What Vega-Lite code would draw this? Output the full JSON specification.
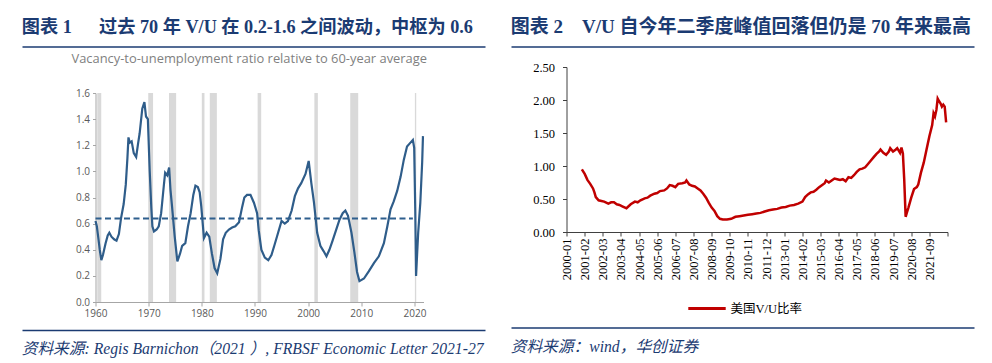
{
  "$schema": "https://vega.github.io/schema/vega-lite/v6.json",
  "background": "white",
  "padding": {"left": 21.5, "top": 17.5, "right": 0, "bottom": 0},
  "config": {"view": {"stroke": null}, "axis": {"grid": false}},
  "datasets": {
    "hdrline": [{"start": 0, "end": 1}],
    "recessions": [
      {"start": 1960.33, "end": 1961.08}, {"start": 1969.92, "end": 1970.83}, {"start": 1973.83, "end": 1975.17},
      {"start": 1980.0, "end": 1980.5}, {"start": 1981.5, "end": 1982.83}, {"start": 1990.5, "end": 1991.17},
      {"start": 2001.17, "end": 2001.83}, {"start": 2007.92, "end": 2009.42}, {"start": 2020.08, "end": 2020.33}
    ],
    "average": [{"start": 1960, "end": 2019.7, "value": 0.64}],
    "vu_long": [
      {"year": 1960.0, "ratio": 0.62}, {"year": 1960.25, "ratio": 0.58}, {"year": 1960.5, "ratio": 0.5}, {"year": 1960.8, "ratio": 0.4},
      {"year": 1961.1, "ratio": 0.32}, {"year": 1961.4, "ratio": 0.36}, {"year": 1961.9, "ratio": 0.45}, {"year": 1962.3, "ratio": 0.51},
      {"year": 1962.6, "ratio": 0.53}, {"year": 1963.0, "ratio": 0.5}, {"year": 1963.5, "ratio": 0.48}, {"year": 1963.95, "ratio": 0.47},
      {"year": 1964.4, "ratio": 0.52}, {"year": 1964.8, "ratio": 0.64}, {"year": 1965.3, "ratio": 0.75}, {"year": 1965.7, "ratio": 0.9},
      {"year": 1966.0, "ratio": 1.1}, {"year": 1966.2, "ratio": 1.26}, {"year": 1966.45, "ratio": 1.22}, {"year": 1966.8, "ratio": 1.23},
      {"year": 1967.2, "ratio": 1.14}, {"year": 1967.65, "ratio": 1.11}, {"year": 1968.0, "ratio": 1.21}, {"year": 1968.3, "ratio": 1.29},
      {"year": 1968.8, "ratio": 1.48}, {"year": 1969.2, "ratio": 1.53}, {"year": 1969.5, "ratio": 1.42}, {"year": 1969.85, "ratio": 1.4},
      {"year": 1970.2, "ratio": 1.0}, {"year": 1970.5, "ratio": 0.72}, {"year": 1970.7, "ratio": 0.58}, {"year": 1971.0, "ratio": 0.54},
      {"year": 1971.5, "ratio": 0.555}, {"year": 1971.9, "ratio": 0.58}, {"year": 1972.35, "ratio": 0.68}, {"year": 1972.85, "ratio": 0.89},
      {"year": 1973.1, "ratio": 0.99}, {"year": 1973.5, "ratio": 0.97}, {"year": 1973.85, "ratio": 1.03}, {"year": 1974.1, "ratio": 0.86},
      {"year": 1974.4, "ratio": 0.73}, {"year": 1974.9, "ratio": 0.5}, {"year": 1975.4, "ratio": 0.31}, {"year": 1975.9, "ratio": 0.37},
      {"year": 1976.3, "ratio": 0.43}, {"year": 1976.9, "ratio": 0.45}, {"year": 1977.4, "ratio": 0.58}, {"year": 1977.9, "ratio": 0.68},
      {"year": 1978.4, "ratio": 0.82}, {"year": 1978.8, "ratio": 0.89}, {"year": 1979.25, "ratio": 0.88}, {"year": 1979.6, "ratio": 0.84},
      {"year": 1979.9, "ratio": 0.73}, {"year": 1980.4, "ratio": 0.49}, {"year": 1980.9, "ratio": 0.53}, {"year": 1981.4, "ratio": 0.5},
      {"year": 1981.9, "ratio": 0.37}, {"year": 1982.4, "ratio": 0.26}, {"year": 1982.9, "ratio": 0.22}, {"year": 1983.5, "ratio": 0.33},
      {"year": 1984.0, "ratio": 0.48}, {"year": 1984.5, "ratio": 0.53}, {"year": 1985.1, "ratio": 0.555}, {"year": 1985.7, "ratio": 0.57},
      {"year": 1986.3, "ratio": 0.58}, {"year": 1987.0, "ratio": 0.61}, {"year": 1987.6, "ratio": 0.73}, {"year": 1988.0, "ratio": 0.8},
      {"year": 1988.5, "ratio": 0.82}, {"year": 1989.15, "ratio": 0.82}, {"year": 1989.8, "ratio": 0.76}, {"year": 1990.4, "ratio": 0.68},
      {"year": 1990.7, "ratio": 0.55}, {"year": 1991.2, "ratio": 0.4}, {"year": 1991.85, "ratio": 0.34}, {"year": 1992.5, "ratio": 0.32},
      {"year": 1993.1, "ratio": 0.36}, {"year": 1993.7, "ratio": 0.44}, {"year": 1994.35, "ratio": 0.53}, {"year": 1995.0, "ratio": 0.62},
      {"year": 1995.6, "ratio": 0.6}, {"year": 1996.2, "ratio": 0.62}, {"year": 1996.9, "ratio": 0.7}, {"year": 1997.5, "ratio": 0.81},
      {"year": 1998.1, "ratio": 0.87}, {"year": 1998.7, "ratio": 0.91}, {"year": 1999.5, "ratio": 0.98}, {"year": 2000.1, "ratio": 1.08},
      {"year": 2000.6, "ratio": 0.91}, {"year": 2001.1, "ratio": 0.76}, {"year": 2001.7, "ratio": 0.53}, {"year": 2002.3, "ratio": 0.43},
      {"year": 2002.9, "ratio": 0.39}, {"year": 2003.45, "ratio": 0.35}, {"year": 2004.0, "ratio": 0.4}, {"year": 2004.6, "ratio": 0.47},
      {"year": 2005.25, "ratio": 0.55}, {"year": 2005.9, "ratio": 0.63}, {"year": 2006.5, "ratio": 0.68}, {"year": 2007.0, "ratio": 0.7},
      {"year": 2007.5, "ratio": 0.66}, {"year": 2008.15, "ratio": 0.53}, {"year": 2008.7, "ratio": 0.38}, {"year": 2009.2, "ratio": 0.23},
      {"year": 2009.65, "ratio": 0.16}, {"year": 2010.5, "ratio": 0.18}, {"year": 2011.4, "ratio": 0.235}, {"year": 2012.4, "ratio": 0.3},
      {"year": 2013.3, "ratio": 0.35}, {"year": 2014.25, "ratio": 0.45}, {"year": 2014.9, "ratio": 0.58}, {"year": 2015.5, "ratio": 0.71},
      {"year": 2016.1, "ratio": 0.77}, {"year": 2016.75, "ratio": 0.85}, {"year": 2017.4, "ratio": 0.96}, {"year": 2018.0, "ratio": 1.09},
      {"year": 2018.6, "ratio": 1.19}, {"year": 2019.25, "ratio": 1.22}, {"year": 2019.7, "ratio": 1.24}, {"year": 2019.95, "ratio": 1.18},
      {"year": 2020.15, "ratio": 0.7}, {"year": 2020.3, "ratio": 0.2}, {"year": 2020.7, "ratio": 0.53}, {"year": 2021.1, "ratio": 0.76},
      {"year": 2021.45, "ratio": 1.07}, {"year": 2021.6, "ratio": 1.27}
    ],
    "vu_us": [
      {"date": "2000-12-01", "ratio": 0.95}, {"date": "2001-02-01", "ratio": 0.88}, {"date": "2001-04-01", "ratio": 0.79},
      {"date": "2001-06-01", "ratio": 0.73}, {"date": "2001-08-01", "ratio": 0.66}, {"date": "2001-09-01", "ratio": 0.6},
      {"date": "2001-10-01", "ratio": 0.53}, {"date": "2001-12-01", "ratio": 0.48}, {"date": "2002-02-01", "ratio": 0.47},
      {"date": "2002-04-01", "ratio": 0.46}, {"date": "2002-07-01", "ratio": 0.43}, {"date": "2002-09-01", "ratio": 0.45},
      {"date": "2002-11-01", "ratio": 0.45}, {"date": "2003-01-01", "ratio": 0.42}, {"date": "2003-03-01", "ratio": 0.41},
      {"date": "2003-05-01", "ratio": 0.39}, {"date": "2003-07-01", "ratio": 0.37}, {"date": "2003-08-01", "ratio": 0.36},
      {"date": "2003-11-01", "ratio": 0.42}, {"date": "2004-02-01", "ratio": 0.46}, {"date": "2004-04-01", "ratio": 0.45},
      {"date": "2004-06-01", "ratio": 0.48}, {"date": "2004-09-01", "ratio": 0.51}, {"date": "2004-11-01", "ratio": 0.52},
      {"date": "2005-01-01", "ratio": 0.55}, {"date": "2005-04-01", "ratio": 0.58}, {"date": "2005-06-01", "ratio": 0.59},
      {"date": "2005-08-01", "ratio": 0.62}, {"date": "2005-11-01", "ratio": 0.63}, {"date": "2006-01-01", "ratio": 0.66},
      {"date": "2006-03-01", "ratio": 0.71}, {"date": "2006-05-01", "ratio": 0.7}, {"date": "2006-07-01", "ratio": 0.68},
      {"date": "2006-09-01", "ratio": 0.73}, {"date": "2006-12-01", "ratio": 0.74}, {"date": "2007-02-01", "ratio": 0.75},
      {"date": "2007-03-01", "ratio": 0.78}, {"date": "2007-05-01", "ratio": 0.72}, {"date": "2007-07-01", "ratio": 0.7},
      {"date": "2007-09-01", "ratio": 0.69}, {"date": "2007-11-01", "ratio": 0.66}, {"date": "2008-01-01", "ratio": 0.63},
      {"date": "2008-03-01", "ratio": 0.58}, {"date": "2008-05-01", "ratio": 0.52}, {"date": "2008-07-01", "ratio": 0.44},
      {"date": "2008-09-01", "ratio": 0.37}, {"date": "2008-11-01", "ratio": 0.32}, {"date": "2009-01-01", "ratio": 0.24},
      {"date": "2009-03-01", "ratio": 0.2}, {"date": "2009-05-01", "ratio": 0.19}, {"date": "2009-08-01", "ratio": 0.19},
      {"date": "2009-11-01", "ratio": 0.2}, {"date": "2010-02-01", "ratio": 0.23}, {"date": "2010-05-01", "ratio": 0.24},
      {"date": "2010-08-01", "ratio": 0.25}, {"date": "2010-11-01", "ratio": 0.26}, {"date": "2011-02-01", "ratio": 0.27},
      {"date": "2011-05-01", "ratio": 0.28}, {"date": "2011-08-01", "ratio": 0.29}, {"date": "2011-11-01", "ratio": 0.31},
      {"date": "2012-02-01", "ratio": 0.33}, {"date": "2012-05-01", "ratio": 0.34}, {"date": "2012-08-01", "ratio": 0.35},
      {"date": "2012-11-01", "ratio": 0.37}, {"date": "2013-02-01", "ratio": 0.38}, {"date": "2013-05-01", "ratio": 0.4},
      {"date": "2013-08-01", "ratio": 0.41}, {"date": "2013-11-01", "ratio": 0.43}, {"date": "2014-02-01", "ratio": 0.46},
      {"date": "2014-04-01", "ratio": 0.53}, {"date": "2014-06-01", "ratio": 0.57}, {"date": "2014-08-01", "ratio": 0.6},
      {"date": "2014-10-01", "ratio": 0.61}, {"date": "2014-12-01", "ratio": 0.64}, {"date": "2015-02-01", "ratio": 0.68},
      {"date": "2015-04-01", "ratio": 0.71}, {"date": "2015-06-01", "ratio": 0.74}, {"date": "2015-07-01", "ratio": 0.78},
      {"date": "2015-09-01", "ratio": 0.75}, {"date": "2015-11-01", "ratio": 0.78}, {"date": "2016-01-01", "ratio": 0.81},
      {"date": "2016-03-01", "ratio": 0.8}, {"date": "2016-05-01", "ratio": 0.79}, {"date": "2016-07-01", "ratio": 0.8},
      {"date": "2016-09-01", "ratio": 0.77}, {"date": "2016-11-01", "ratio": 0.83}, {"date": "2017-01-01", "ratio": 0.82},
      {"date": "2017-03-01", "ratio": 0.86}, {"date": "2017-05-01", "ratio": 0.91}, {"date": "2017-07-01", "ratio": 0.95},
      {"date": "2017-09-01", "ratio": 0.96}, {"date": "2017-11-01", "ratio": 0.98}, {"date": "2018-01-01", "ratio": 1.03},
      {"date": "2018-03-01", "ratio": 1.08}, {"date": "2018-05-01", "ratio": 1.13}, {"date": "2018-07-01", "ratio": 1.18},
      {"date": "2018-09-01", "ratio": 1.22}, {"date": "2018-10-01", "ratio": 1.25}, {"date": "2018-12-01", "ratio": 1.2},
      {"date": "2019-02-01", "ratio": 1.17}, {"date": "2019-04-01", "ratio": 1.22}, {"date": "2019-05-01", "ratio": 1.27},
      {"date": "2019-07-01", "ratio": 1.22}, {"date": "2019-09-01", "ratio": 1.25}, {"date": "2019-10-01", "ratio": 1.27},
      {"date": "2019-12-01", "ratio": 1.2}, {"date": "2020-01-01", "ratio": 1.28}, {"date": "2020-02-01", "ratio": 1.19},
      {"date": "2020-03-01", "ratio": 0.8}, {"date": "2020-04-01", "ratio": 0.23}, {"date": "2020-05-01", "ratio": 0.3},
      {"date": "2020-06-01", "ratio": 0.37}, {"date": "2020-08-01", "ratio": 0.52}, {"date": "2020-10-01", "ratio": 0.65},
      {"date": "2020-12-01", "ratio": 0.68}, {"date": "2021-01-01", "ratio": 0.72}, {"date": "2021-03-01", "ratio": 0.9},
      {"date": "2021-05-01", "ratio": 1.05}, {"date": "2021-07-01", "ratio": 1.25}, {"date": "2021-09-01", "ratio": 1.45},
      {"date": "2021-11-01", "ratio": 1.62}, {"date": "2021-12-01", "ratio": 1.8}, {"date": "2022-01-01", "ratio": 1.75},
      {"date": "2022-02-01", "ratio": 1.85}, {"date": "2022-03-01", "ratio": 2.02}, {"date": "2022-04-01", "ratio": 1.98},
      {"date": "2022-05-01", "ratio": 1.95}, {"date": "2022-06-01", "ratio": 1.9}, {"date": "2022-07-01", "ratio": 1.93},
      {"date": "2022-08-01", "ratio": 1.9}, {"date": "2022-09-01", "ratio": 1.66}
    ]
  },
  "spacing": 24,
  "resolve": {"scale": {"color": "independent"}, "legend": {"color": "independent"}},
  "hconcat": [
    {
      "spacing": 10.5,
      "vconcat": [
        {
          "spacing": 3.5,
          "vconcat": [
            {
              "width": 390, "height": 1,
              "data": {"name": "hdrline"},
              "title": {"text": "图表 1\u2003\u2002过去 70 年 V/U 在 0.2-1.6 之间波动，中枢为 0.6", "anchor": "start", "frame": "bounds", "font": "Liberation Serif, Noto Sans CJK SC", "fontSize": 18.2, "fontWeight": "bold", "color": "#1B3B72", "offset": 9.3},
              "mark": {"type": "rule", "color": "#1B3B72", "strokeWidth": 1.5},
              "encoding": {
                "x": {"field": "start", "type": "quantitative", "scale": {"domain": [0, 1], "range": [-73, 390]}, "axis": null},
                "x2": {"field": "end"}
              }
            },
            {
              "width": 328, "height": 209,
              "title": {"text": "Vacancy-to-unemployment ratio relative to 60-year average", "anchor": "start", "frame": "group", "dx": -24, "offset": 22.5, "font": "Open Sans", "fontSize": 12.9, "fontWeight": "normal", "color": "#7F7F7F"},
              "layer": [
                {
                  "data": {"name": "recessions"},
                  "mark": {"type": "rect", "color": "#D9D9D9"},
                  "encoding": {
                    "x": {"field": "start", "type": "quantitative", "title": null,
                      "scale": {"domain": [1960, 2021.7], "nice": false, "zero": false},
                      "axis": {"values": [1960, 1970, 1980, 1990, 2000, 2010, 2020], "format": "d", "labelFlush": false, "labelOverlap": false, "labelFont": "Open Sans", "labelFontSize": 10, "labelColor": "#595959", "domainColor": "#A6A6A6", "tickColor": "#A6A6A6", "tickSize": 4, "labelPadding": 2}},
                    "x2": {"field": "end"},
                    "y": {"datum": 0, "type": "quantitative", "title": null,
                      "scale": {"domain": [0, 1.6], "nice": false},
                      "axis": {"values": [0, 0.2, 0.4, 0.6, 0.8, 1.0, 1.2, 1.4, 1.6], "tickCount": 9, "format": ".1f", "labelOverlap": false, "labelFont": "Open Sans", "labelFontSize": 10, "labelColor": "#595959", "domainColor": "#A6A6A6", "tickColor": "#A6A6A6", "tickSize": 3, "labelPadding": 3}},
                    "y2": {"datum": 1.6}
                  }
                },
                {
                  "data": {"name": "average"},
                  "mark": {"type": "rule", "color": "#2E5F8E", "strokeWidth": 2, "strokeDash": [6, 3.5]},
                  "encoding": {
                    "x": {"field": "start", "type": "quantitative", "title": null,
                      "axis": {"values": [1960, 1970, 1980, 1990, 2000, 2010, 2020], "format": "d", "labelFlush": false, "labelOverlap": false, "labelFont": "Open Sans", "labelFontSize": 10, "labelColor": "#595959", "domainColor": "#A6A6A6", "tickColor": "#A6A6A6", "tickSize": 4, "labelPadding": 2}},
                    "x2": {"field": "end"},
                    "y": {"field": "value", "type": "quantitative", "title": null,
                      "axis": {"values": [0, 0.2, 0.4, 0.6, 0.8, 1.0, 1.2, 1.4, 1.6], "tickCount": 9, "format": ".1f", "labelOverlap": false, "labelFont": "Open Sans", "labelFontSize": 10, "labelColor": "#595959", "domainColor": "#A6A6A6", "tickColor": "#A6A6A6", "tickSize": 3, "labelPadding": 3}}
                  }
                },
                {
                  "data": {"name": "vu_long"},
                  "mark": {"type": "line", "color": "#2F5D8A", "strokeWidth": 2.2},
                  "encoding": {
                    "x": {"field": "year", "type": "quantitative", "title": null,
                      "axis": {"values": [1960, 1970, 1980, 1990, 2000, 2010, 2020], "format": "d", "labelFlush": false, "labelOverlap": false, "labelFont": "Open Sans", "labelFontSize": 10, "labelColor": "#595959", "domainColor": "#A6A6A6", "tickColor": "#A6A6A6", "tickSize": 4, "labelPadding": 2}},
                    "y": {"field": "ratio", "type": "quantitative", "title": null,
                      "axis": {"values": [0, 0.2, 0.4, 0.6, 0.8, 1.0, 1.2, 1.4, 1.6], "tickCount": 9, "format": ".1f", "labelOverlap": false, "labelFont": "Open Sans", "labelFontSize": 10, "labelColor": "#595959", "domainColor": "#A6A6A6", "tickColor": "#A6A6A6", "tickSize": 3, "labelPadding": 3}}
                  }
                }
              ]
            }
          ]
        },
        {
          "width": 390, "height": 1,
          "data": {"name": "hdrline"},
          "title": {"text": "资料来源: Regis Barnichon（2021 ）, FRBSF Economic Letter 2021-27", "orient": "bottom", "anchor": "start", "frame": "bounds", "font": "Liberation Serif, Noto Sans CJK SC", "fontSize": 15.7, "fontStyle": "italic", "fontWeight": "normal", "color": "#1B3B72", "offset": 11},
          "mark": {"type": "rule", "color": "#1B3B72", "strokeWidth": 1.5},
          "encoding": {
            "x": {"field": "start", "type": "quantitative", "scale": {"domain": [0, 1], "range": [-73, 390]}, "axis": null},
            "x2": {"field": "end"}
          }
        }
      ]
    },
    {
      "spacing": 11,
      "resolve": {"scale": {"color": "independent"}, "legend": {"color": "independent"}},
      "vconcat": [
        {
          "spacing": 12.5,
          "resolve": {"scale": {"color": "independent"}, "legend": {"color": "independent"}},
          "vconcat": [
            {
              "width": 408, "height": 1,
              "data": {"name": "hdrline"},
              "title": {"text": "图表 2\u2003V/U 自今年二季度峰值回落但仍是 70 年来最高", "anchor": "start", "frame": "bounds", "font": "Liberation Serif, Noto Sans CJK SC", "fontSize": 19, "fontWeight": "bold", "color": "#1B3B72", "offset": 9},
              "mark": {"type": "rule", "color": "#1B3B72", "strokeWidth": 1.5},
              "encoding": {
                "x": {"field": "start", "type": "quantitative", "scale": {"domain": [0, 1], "range": [-55, 408]}, "axis": null},
                "x2": {"field": "end"}
              }
            },
            {
              "width": 381, "height": 165,
              "data": {"name": "vu_us"},
              "mark": {"type": "line", "strokeWidth": 2.5},
              "encoding": {
                "x": {"field": "date", "type": "temporal", "title": null,
                  "scale": {"type": "utc", "domain": [{"year": 2000, "month": 1, "date": 1, "utc": true}, {"year": 2022, "month": 10, "date": 1, "utc": true}]},
                  "axis": {
                    "values": [
                      {"year": 2000, "month": 1, "date": 1, "utc": true}, {"year": 2001, "month": 2, "date": 1, "utc": true},
                      {"year": 2002, "month": 3, "date": 1, "utc": true}, {"year": 2003, "month": 4, "date": 1, "utc": true},
                      {"year": 2004, "month": 5, "date": 1, "utc": true}, {"year": 2005, "month": 6, "date": 1, "utc": true},
                      {"year": 2006, "month": 7, "date": 1, "utc": true}, {"year": 2007, "month": 8, "date": 1, "utc": true},
                      {"year": 2008, "month": 9, "date": 1, "utc": true}, {"year": 2009, "month": 10, "date": 1, "utc": true},
                      {"year": 2010, "month": 11, "date": 1, "utc": true}, {"year": 2011, "month": 12, "date": 1, "utc": true},
                      {"year": 2013, "month": 1, "date": 1, "utc": true}, {"year": 2014, "month": 2, "date": 1, "utc": true},
                      {"year": 2015, "month": 3, "date": 1, "utc": true}, {"year": 2016, "month": 4, "date": 1, "utc": true},
                      {"year": 2017, "month": 5, "date": 1, "utc": true}, {"year": 2018, "month": 6, "date": 1, "utc": true},
                      {"year": 2019, "month": 7, "date": 1, "utc": true}, {"year": 2020, "month": 8, "date": 1, "utc": true},
                      {"year": 2021, "month": 9, "date": 1, "utc": true}, {"year": 2022, "month": 10, "date": 1, "utc": true}
                    ],
                    "labelExpr": "utcyear(datum.value) >= 2022 ? '' : utcFormat(datum.value, '%Y-%m')",
                    "labelAngle": 270, "labelFlush": false, "labelOverlap": false,
                    "labelFont": "Liberation Serif", "labelFontSize": 12.5, "labelColor": "#000000",
                    "domainColor": "#404040", "tickColor": "#404040", "tickSize": 4, "labelPadding": 2
                  }},
                "y": {"field": "ratio", "type": "quantitative", "title": null,
                  "scale": {"domain": [0, 2.5], "nice": false},
                  "axis": {"values": [0, 0.5, 1.0, 1.5, 2.0, 2.5], "format": ".2f", "labelOverlap": false, "labelFont": "Liberation Serif", "labelFontSize": 12.5, "labelColor": "#000000", "domainColor": "#404040", "tickColor": "#404040", "tickSize": 4, "labelPadding": 8}},
                "color": {"datum": "美国V/U比率", "type": "nominal",
                  "scale": {"range": ["#C00000"]},
                  "legend": {"orient": "none", "legendX": 120, "legendY": 221, "title": null, "symbolType": "stroke", "symbolSize": 1400, "symbolStrokeWidth": 3, "labelFont": "Liberation Serif, Noto Sans CJK SC", "labelFontSize": 12.5, "labelColor": "#000000", "labelOffset": 3}}
              }
            }
          ]
        },
        {
          "width": 408, "height": 1,
          "data": {"name": "hdrline"},
          "title": {"text": "资料来源：wind，华创证券", "orient": "bottom", "anchor": "start", "frame": "bounds", "font": "Liberation Serif, Noto Sans CJK SC", "fontSize": 15.7, "fontStyle": "italic", "fontWeight": "normal", "color": "#1B3B72", "offset": 11},
          "mark": {"type": "rule", "color": "#1B3B72", "strokeWidth": 1.5},
          "encoding": {
            "x": {"field": "start", "type": "quantitative", "scale": {"domain": [0, 1], "range": [-55, 408]}, "axis": null},
            "x2": {"field": "end"}
          }
        }
      ]
    }
  ]
}
